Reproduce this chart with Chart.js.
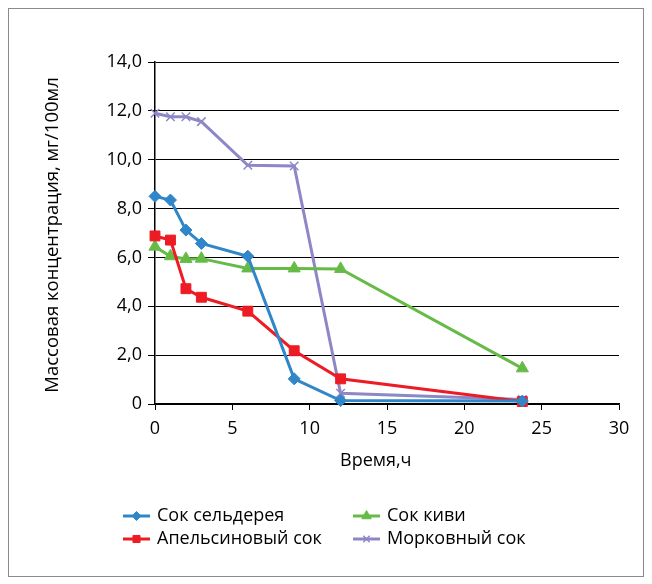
<!DOCTYPE html>
<html>
<head>
<meta charset="utf-8">
<script src="https://cdn.jsdelivr.net/npm/chart.js@4.4.1/dist/chart.umd.min.js"></script>
<style>
  html, body { margin: 0; padding: 0; background: #fff; }
  #wrap { width: 652px; height: 584px; }
</style>
</head>
<body>
<div id="wrap"><canvas id="chart" width="652" height="584"></canvas></div>
<script>
// hours
const hours = [0, 1, 2, 3, 6, 9, 12, 23.75];

const celery = [8.5, 8.35, 7.12, 6.57, 6.05, 1.03, 0.14, 0.12];
const orange = [6.88, 6.71, 4.72, 4.37, 3.8, 2.18, 1.03, 0.1];
const kiwi = [6.44, 6.05, 5.94, 5.95, 5.55, 5.55, 5.53, 1.46];
const carrot = [11.9, 11.76, 11.76, 11.56, 9.77, 9.74, 0.44, 0.18];

const seriesNames = ['Сок сельдерея', 'Апельсиновый сок', 'Сок киви', 'Морковный сок'];
const yTickLabels = ['0', '2,0', '4,0', '6,0', '8,0', '10,0', '12,0', '14,0'];
const xTitle = 'Время,ч';
const yTitle = 'Массовая концентрация, мг/100мл';

const FONT = '"Open Sans", "Noto Sans", sans-serif';

function pts(ys) {
    return hours.map((h, i) => ({ x: h, y: ys[i] }));
}

const extras = {
    id: 'extras',
    beforeDraw(chart) {
        const c = chart.ctx;
        c.save();
        c.fillStyle = '#fff';
        c.fillRect(0, 0, chart.width, chart.height);
        c.strokeStyle = '#8a8a8a';
        c.lineWidth = 1;
        c.strokeRect(8.5, 8.5, 635, 568);
        c.restore();
    },
    afterDraw(chart) {
        const c = chart.ctx;
        c.save();
        c.fillStyle = '#000';
        c.font = '18px ' + FONT;
        c.textAlign = 'left';
        c.textBaseline = 'middle';
        c.fillText(xTitle, 340, 461);
        c.translate(53, 235);
        c.rotate(-Math.PI / 2);
        c.textAlign = 'center';
        c.font = '18.5px ' + FONT;
        c.fillText(yTitle, 0, 0);
        c.restore();

        // legend, two columns
        const spots = [[123, 516], [123, 539], [353, 516], [353, 539]];
        const sizes = [4.5, 5, 5.5, 4.5];
        chart.data.datasets.forEach((ds, i) => {
            const [lx, ly] = spots[i];
            c.save();
            c.strokeStyle = ds.borderColor;
            c.fillStyle = ds.borderColor;
            c.lineWidth = 3;
            c.beginPath();
            c.moveTo(lx, ly);
            c.lineTo(lx + 27, ly);
            c.stroke();
            c.lineWidth = ds.pointBorderWidth;
            Chart.helpers.drawPoint(c, {
                pointStyle: ds.pointStyle,
                radius: sizes[i],
                borderWidth: ds.pointBorderWidth
            }, lx + 13.5, ly);
            c.fillStyle = '#000';
            c.font = '18px ' + FONT;
            c.textAlign = 'left';
            c.textBaseline = 'middle';
            c.fillText(seriesNames[i], lx + 34, ly);
            c.restore();
        });
    }
};

function makeSet(i, ys, color, style, r) {
    return {
        label: seriesNames[i],
        data: pts(ys),
        borderColor: color,
        backgroundColor: color,
        pointBackgroundColor: color,
        pointBorderColor: color,
        pointStyle: style,
        pointRadius: r,
        pointBorderWidth: style === 'crossRot' ? 1.5 : 1,
        borderWidth: 3,
        tension: 0,
        clip: false
    };
}

new Chart(document.getElementById('chart'), {
    type: 'line',
    data: {
        datasets: [
            makeSet(0, celery, '#2f86c8', 'rectRot', 6),
            makeSet(1, orange, '#ed1c24', 'rect', 7),
            makeSet(2, kiwi, '#66bb47', 'triangle', 7),
            makeSet(3, carrot, '#8d87c6', 'crossRot', 6)
        ]
    },
    options: {
        responsive: false,
        animation: false,
        layout: { padding: { left: 8, right: 33, top: 62, bottom: 0 } },
        plugins: {
            legend: { display: false },
            tooltip: { enabled: false }
        },
        scales: {
            x: {
                type: 'linear',
                min: 0,
                max: 30,
                ticks: {
                    stepSize: 5,
                    color: '#000',
                    font: { family: FONT, size: 18 },
                    padding: 8
                },
                grid: {
                    drawOnChartArea: false,
                    color: '#000',
                    tickLength: 6
                },
                border: { color: '#000', width: 1.5 },
                afterFit(scale) { scale.height = 180; }
            },
            y: {
                min: 0,
                max: 14,
                ticks: {
                    stepSize: 2,
                    color: '#000',
                    font: { family: FONT, size: 18 },
                    padding: 6,
                    callback: (v) => yTickLabels[Math.round(v / 2)]
                },
                grid: {
                    color: '#000',
                    lineWidth: 1,
                    tickLength: 7
                },
                border: { color: '#000', width: 1.5 },
                afterFit(scale) { scale.width = 147; }
            }
        }
    },
    plugins: [extras]
});
</script>
</body>
</html>
